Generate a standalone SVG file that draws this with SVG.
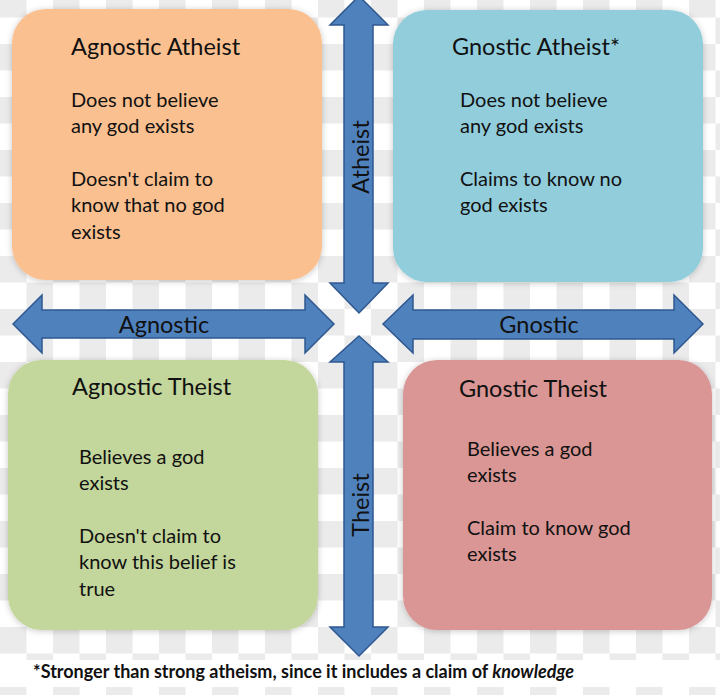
<svg xmlns="http://www.w3.org/2000/svg" width="720" height="695" viewBox="0 0 720 695">
<defs>
<pattern id="checker" x="0" y="-9" width="53" height="53" patternUnits="userSpaceOnUse">
<rect width="53" height="53" fill="#ffffff"/>
<rect width="26.5" height="26.5" fill="#ebebeb"/>
<rect x="26.5" y="26.5" width="26.5" height="26.5" fill="#ebebeb"/>
</pattern>
<filter id="shadow" x="-10%" y="-10%" width="120%" height="120%">
<feDropShadow dx="0" dy="1" stdDeviation="3" flood-color="#000" flood-opacity="0.22"/>
</filter>
</defs>
<style>
.box{filter:url(#shadow);}
.head{font-family:Lato,"Noto Sans","Liberation Sans",sans-serif;font-size:23.5px;fill:#111;}
.body{font-family:Lato,"Noto Sans","Liberation Sans",sans-serif;font-size:20px;fill:#111;}
.axis{fill:#4f81bd;stroke:#2f5890;stroke-width:1.5;stroke-linejoin:miter;}
.axislbl{font-family:Lato,"Noto Sans","Liberation Sans",sans-serif;font-size:23.5px;fill:#111;text-anchor:middle;}
.foot{font-family:Lato,"Noto Sans","Liberation Sans",sans-serif;font-size:18px;font-weight:bold;fill:#111;}
</style>
<rect width="720" height="695" fill="url(#checker)"/>
<rect x="0" y="660" width="720" height="27" fill="#ffffff"/>

<g id="agnostic-atheist">
<rect class="box" x="12" y="9" width="310" height="271" rx="34" fill="#fac090"/>
<text class="head" x="71" y="55">Agnostic Atheist</text>
<text class="body" x="71" y="107">Does not believe</text>
<text class="body" x="71" y="133">any god exists</text>
<text class="body" x="71" y="186">Doesn't claim to</text>
<text class="body" x="71" y="212">know that no god</text>
<text class="body" x="71" y="239">exists</text>
</g>

<g id="gnostic-atheist">
<rect class="box" x="393" y="10" width="310" height="272" rx="34" fill="#92cddc"/>
<text class="head" x="452" y="55">Gnostic Atheist*</text>
<text class="body" x="460" y="107">Does not believe</text>
<text class="body" x="460" y="133">any god exists</text>
<text class="body" x="460" y="186">Claims to know no</text>
<text class="body" x="460" y="212">god exists</text>
</g>

<g id="agnostic-theist">
<rect class="box" x="8" y="360" width="310" height="270" rx="34" fill="#c3d69b"/>
<text class="head" x="72" y="395">Agnostic Theist</text>
<text class="body" x="79" y="464">Believes a god</text>
<text class="body" x="79" y="490">exists</text>
<text class="body" x="79" y="543">Doesn't claim to</text>
<text class="body" x="79" y="569">know this belief is</text>
<text class="body" x="79" y="596">true</text>
</g>

<g id="gnostic-theist">
<rect class="box" x="403" y="360" width="309" height="270" rx="34" fill="#d99694"/>
<text class="head" x="459" y="397">Gnostic Theist</text>
<text class="body" x="467" y="456">Believes a god</text>
<text class="body" x="467" y="482">exists</text>
<text class="body" x="467" y="535">Claim to know god</text>
<text class="body" x="467" y="561">exists</text>
</g>

<g id="connectors">
<path class="axis" d="M359,-4 L388,25 L373,25 L373,283 L388,283 L359,313 L330,283 L344,283 L344,25 L330,25 Z"/>
<path class="axis" d="M359,336 L388,362 L373,362 L373,627 L388,627 L359,656 L330,627 L344,627 L344,362 L330,362 Z"/>
<path class="axis" d="M13,324 L42,295 L42,310 L305,310 L305,295 L334,324 L305,353 L305,338 L42,338 L42,353 Z"/>
<path class="axis" d="M383,324 L413,295 L413,310 L674,310 L674,295 L703,324 L674,353 L674,339 L413,339 L413,353 Z"/>
<text class="axislbl" x="164" y="333">Agnostic</text>
<text class="axislbl" x="539" y="333">Gnostic</text>
<text class="axislbl" transform="translate(369,157) rotate(-90)">Atheist</text>
<text class="axislbl" transform="translate(369,505) rotate(-90)">Theist</text>
</g>

<text class="foot" x="33" y="678">*Stronger than strong atheism, since it includes a claim of <tspan font-style="italic">knowledge</tspan></text>
</svg>
